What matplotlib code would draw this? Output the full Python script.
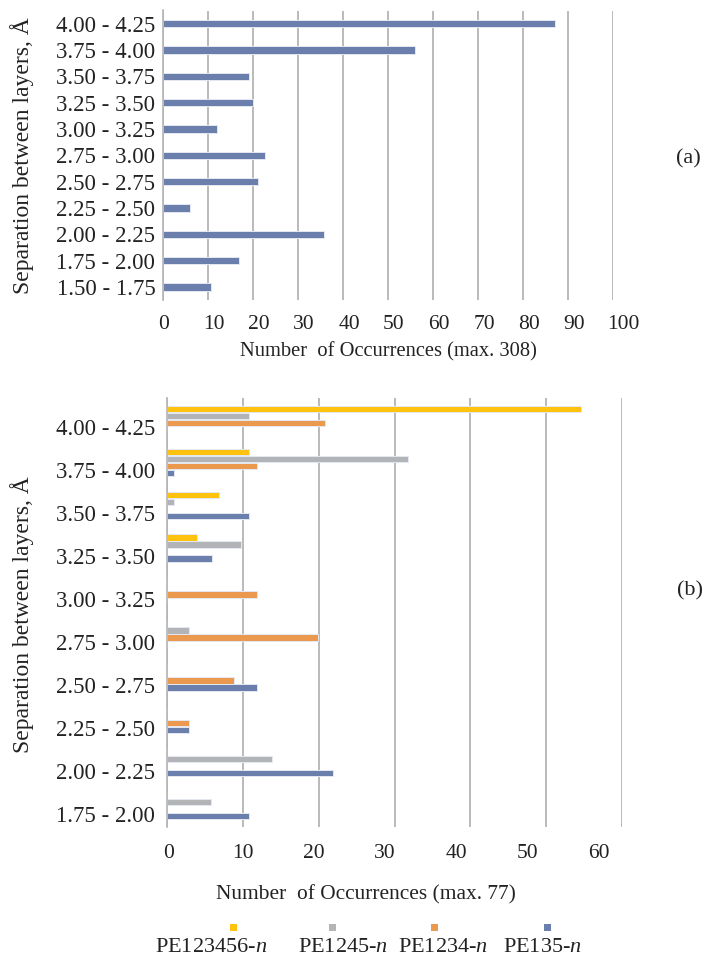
import matplotlib
matplotlib.use("Agg")
import matplotlib.pyplot as plt
from matplotlib.patches import Rectangle
from matplotlib.transforms import ScaledTranslation

plt.rcParams["font.family"] = ["Liberation Serif", "DejaVu Serif"]
plt.rcParams["mathtext.fontset"] = "custom"
plt.rcParams["mathtext.it"] = "Liberation Serif:italic"
plt.rcParams["mathtext.rm"] = "Liberation Serif"

# Panel (a): all structures
cats_a = ["4.00 - 4.25", "3.75 - 4.00", "3.50 - 3.75", "3.25 - 3.50", "3.00 - 3.25",
          "2.75 - 3.00", "2.50 - 2.75", "2.25 - 2.50", "2.00 - 2.25", "1.75 - 2.00",
          "1.50 - 1.75"]
vals_a = [87.0, 56.0, 19.0, 20.0, 12.0, 22.7, 21.0, 6.0, 35.8, 16.8, 10.7]

# Panel (b): by substitution pattern
cats_b = ["4.00 - 4.25", "3.75 - 4.00", "3.50 - 3.75", "3.25 - 3.50", "3.00 - 3.25",
          "2.75 - 3.00", "2.50 - 2.75", "2.25 - 2.50", "2.00 - 2.25", "1.75 - 2.00"]
series_names = ["PE123456-$n$", "PE1245-$n$", "PE1234-$n$", "PE135-$n$"]
pe123456 = [54.6, 10.8, 6.8, 4.0, 0, 0, 0, 0, 0, 0]
pe1245 = [10.8, 31.8, 0.9, 9.8, 0, 2.9, 0, 0, 13.9, 5.8]
pe1234 = [20.9, 11.9, 0, 0, 11.9, 19.9, 8.9, 2.9, 0, 0]
pe135 = [0, 0.9, 10.8, 5.9, 0, 0, 11.9, 2.9, 21.9, 10.8]
series_vals = [pe123456, pe1245, pe1234, pe135]
colors = ["#ffc20e", "#b3b4b7", "#ec9950", "#6a7fab"]

xticks_a = list(range(0, 101, 10))
xticks_b = list(range(0, 61, 10))

# hand-placed nudges of the x tick labels (pixels)
nudge_a = [1, 6, 6, 6, 6, 6, 6, 6, 6, 6, 10]
nudge_b = [2, 0, -5, -10, -14, -19, -23]

W, H = 705, 959
fig = plt.figure(figsize=(W / 100, H / 100), dpi=100)

def px_axes(x0, x1, y0, y1):
    return fig.add_axes([x0 / W, 1 - y1 / H, (x1 - x0) / W, (y1 - y0) / H])

grid_col = "#b4b4b4"
edge_col = "#e4e8f0"
txt_col = "#222222"

def style(ax, xticks, xpad, ypad, fs_x, fs_y, nudges):
    ax.set_xlim(xticks[0], xticks[-1])
    ax.set_xticks(xticks)
    for s in ["top", "right", "bottom"]:
        ax.spines[s].set_visible(False)
    ax.spines["left"].set_color(grid_col)
    ax.spines["left"].set_linewidth(1.2)
    ax.grid(axis="x", color=grid_col, linewidth=1.3)
    ax.set_axisbelow(True)
    ax.tick_params(axis="both", length=0)
    ax.tick_params(axis="x", pad=xpad, labelsize=fs_x, colors=txt_col)
    ax.tick_params(axis="y", pad=ypad, labelsize=fs_y, colors=txt_col)
    for lab, dx in zip(ax.get_xticklabels(), nudges):
        lab.set_transform(lab.get_transform() + ScaledTranslation(dx / 100, 0, fig.dpi_scale_trans))

# ---- (a)
ax1 = px_axes(163, 613, 10.5, 300)
ya = list(range(len(cats_a)))
ax1.barh(ya, vals_a, height=0.28, color=colors[3], edgecolor=edge_col, linewidth=0.7)
ax1.set_ylim(len(cats_a) - 0.5, -0.5)
ax1.set_yticks(ya)
ax1.set_yticklabels(cats_a)
style(ax1, xticks_a, xpad=11, ypad=5.5, fs_x=15.5, fs_y=16.5, nudges=nudge_a)

# ---- (b)
ax2 = px_axes(167, 622, 398, 827)
yb = list(range(len(cats_b)))
h = 0.163
for k, (vals, col) in enumerate(zip(series_vals, colors)):
    offs = (k - 1.5) * h
    ax2.barh([y + offs for y in yb], vals, height=h * 0.92, color=col,
             edgecolor=edge_col, linewidth=0.7)
ax2.set_ylim(len(cats_b) - 0.5, -0.5)
ax2.set_yticks(yb)
ax2.set_yticklabels(cats_b)
style(ax2, xticks_b, xpad=12, ypad=8.5, fs_x=15.5, fs_y=16.5, nudges=nudge_b)
shift = ScaledTranslation(0, -8 / 100, fig.dpi_scale_trans)
for lab in ax2.get_yticklabels():
    lab.set_transform(lab.get_transform() + shift)

# axis titles
ylab = "Separation between layers, Å"
fig.text(22 / W, 1 - 156 / H, ylab, rotation=90, ha="center", va="center", fontsize=17, color=txt_col)
fig.text(22 / W, 1 - 615 / H, ylab, rotation=90, ha="center", va="center", fontsize=17, color=txt_col)
fig.text(388 / W, 1 - 352 / H, "Number  of Occurrences (max. 308)", ha="center", va="center",
         fontsize=14.8, color=txt_col)
fig.text(366 / W, 1 - 895 / H, "Number  of Occurrences (max. 77)", ha="center", va="center",
         fontsize=15.4, color=txt_col)
fig.text(688 / W, 1 - 159 / H, "(a)", ha="center", va="center", fontsize=16, color=txt_col)
fig.text(690 / W, 1 - 591 / H, "(b)", ha="center", va="center", fontsize=16, color=txt_col)

# legend
marker_x = [234, 332, 434, 547]
text_x = [211, 343, 443, 542]
for name, col, mx, tx in zip(series_names, colors, marker_x, text_x):
    fig.patches.append(Rectangle(((mx - 3.5) / W, 1 - (927 + 3.5) / H), 7 / W, 7 / H,
                                 transform=fig.transFigure, facecolor=col, edgecolor="none"))
    fig.text(tx / W, 1 - 948 / H, name, ha="center", va="center", fontsize=16, color=txt_col)

fig.savefig("out.png", dpi=100)
